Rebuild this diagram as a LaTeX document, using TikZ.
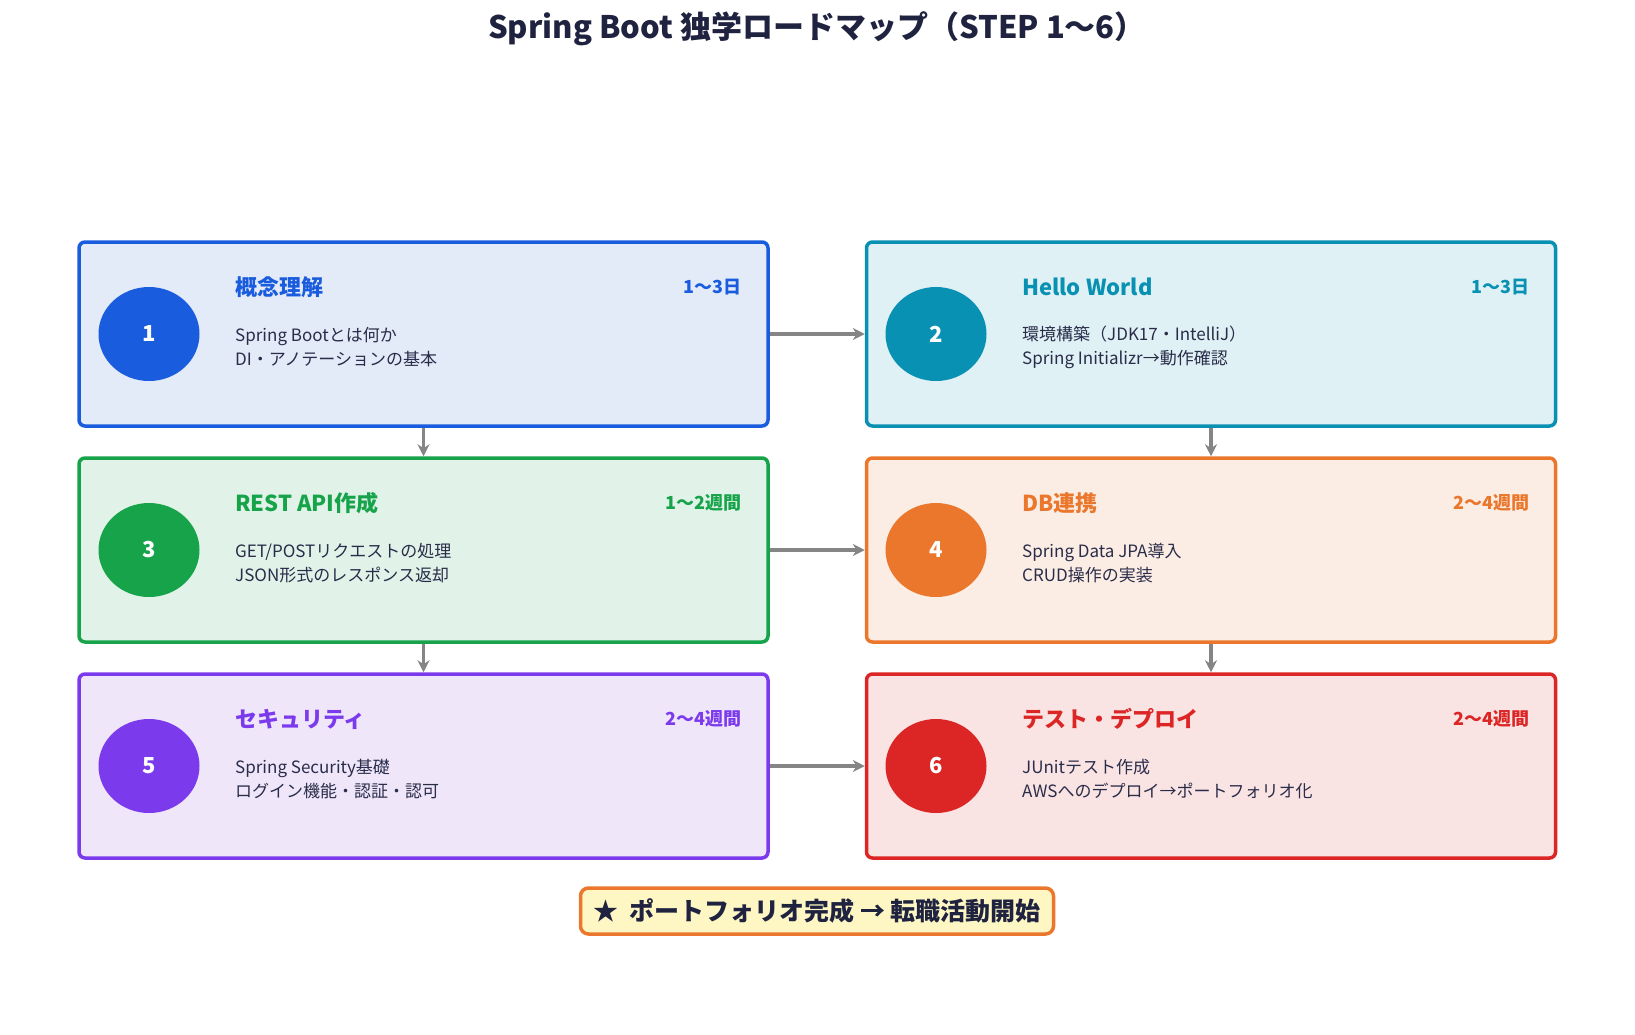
\documentclass[tikz,border=0pt]{standalone}
\usepackage{fontspec}
\setmainfont{Noto Sans CJK JP}
\usepackage{tikz}
\usetikzlibrary{shapes.geometric, arrows.meta, positioning, calc}
\definecolor{rmink}{HTML}{2A2D4A}
\definecolor{rmgray}{HTML}{858585}
\definecolor{rmblue}{HTML}{1A5CDE}
\definecolor{rmbluel}{HTML}{E3EAF8}
\definecolor{rmteal}{HTML}{0891B2}
\definecolor{rmteall}{HTML}{DFF1F5}
\definecolor{rmgreen}{HTML}{16A34A}
\definecolor{rmgreenl}{HTML}{E1F3E8}
\definecolor{rmorange}{HTML}{EA772C}
\definecolor{rmorangel}{HTML}{FCEDE4}
\definecolor{rmpurple}{HTML}{7C3AED}
\definecolor{rmpurplel}{HTML}{EFE6FA}
\definecolor{rmred}{HTML}{DC2626}
\definecolor{rmredl}{HTML}{FAE3E3}
\definecolor{rmgoal}{HTML}{FEF7C3}
\definecolor{rmtitle}{HTML}{1F2340}

\begin{document}
\begin{tikzpicture}[
    x=1pt, y=-1pt,
    stage/.style={rectangle, rounded corners=6pt, line width=3.5pt, minimum width=689pt, minimum height=184pt},
    badge/.style={ellipse, minimum width=101pt, minimum height=94pt, inner sep=0pt, text=white, font=\fontsize{22}{26}\selectfont\bfseries},
    heading/.style={anchor=west, inner sep=0pt, font=\fontsize{22}{26}\selectfont\bfseries},
    duration/.style={anchor=east, inner sep=0pt, font=\fontsize{18}{21}\selectfont\bfseries},
    detail/.style={anchor=west, inner sep=0pt, align=left, text=rmink, font=\fontsize{17}{24}\selectfont},
    link/.style={-{Stealth[length=12pt, width=12pt]}, draw=rmgray, line width=3.5pt},
    goal/.style={rectangle, rounded corners=8pt, draw=rmorange, fill=rmgoal, line width=3.5pt, minimum width=473pt, minimum height=46pt, text=rmtitle, font=\fontsize{25}{29}\selectfont\bfseries}
]
\useasboundingbox (0,0) rectangle (1635,1034);

\node[text=rmtitle, font=\fontsize{31}{37}\selectfont\bfseries] (title) at (817, 29) {Spring Boot 独学ロードマップ（STEP 1〜6）};

% STEP 1
\node[stage, draw=rmblue, fill=rmbluel] (s1) at (423.5, 334) {};
\node[badge, fill=rmblue] (c1) at (149, 334) {1};
\node[heading, text=rmblue] (h1) at (235, 287) {概念理解};
\node[duration, text=rmblue] (d1) at (742, 287) {1〜3日};
\node[detail] (t1) at (235, 347) {Spring Bootとは何か\\DI・アノテーションの基本};

% STEP 2
\node[stage, draw=rmteal, fill=rmteall] (s2) at (1211, 334) {};
\node[badge, fill=rmteal] (c2) at (936, 334) {2};
\node[heading, text=rmteal] (h2) at (1022, 287) {Hello World};
\node[duration, text=rmteal] (d2) at (1530, 287) {1〜3日};
\node[detail] (t2) at (1022, 347) {環境構築（JDK17・IntelliJ）\\Spring Initializr→動作確認};

% STEP 3
\node[stage, draw=rmgreen, fill=rmgreenl] (s3) at (423.5, 550) {};
\node[badge, fill=rmgreen] (c3) at (149, 550) {3};
\node[heading, text=rmgreen] (h3) at (235, 503) {REST API作成};
\node[duration, text=rmgreen] (d3) at (742, 503) {1〜2週間};
\node[detail] (t3) at (235, 563) {GET/POSTリクエストの処理\\JSON形式のレスポンス返却};

% STEP 4
\node[stage, draw=rmorange, fill=rmorangel] (s4) at (1211, 550) {};
\node[badge, fill=rmorange] (c4) at (936, 550) {4};
\node[heading, text=rmorange] (h4) at (1022, 503) {DB連携};
\node[duration, text=rmorange] (d4) at (1530, 503) {2〜4週間};
\node[detail] (t4) at (1022, 563) {Spring Data JPA導入\\CRUD操作の実装};

% STEP 5
\node[stage, draw=rmpurple, fill=rmpurplel] (s5) at (423.5, 766) {};
\node[badge, fill=rmpurple] (c5) at (149, 766) {5};
\node[heading, text=rmpurple] (h5) at (235, 719) {セキュリティ};
\node[duration, text=rmpurple] (d5) at (742, 719) {2〜4週間};
\node[detail] (t5) at (235, 779) {Spring Security基礎\\ログイン機能・認証・認可};

% STEP 6
\node[stage, draw=rmred, fill=rmredl] (s6) at (1211, 766) {};
\node[badge, fill=rmred] (c6) at (936, 766) {6};
\node[heading, text=rmred] (h6) at (1022, 719) {テスト・デプロイ};
\node[duration, text=rmred] (d6) at (1530, 719) {2〜4週間};
\node[detail] (t6) at (1022, 779) {JUnitテスト作成\\AWSへのデプロイ→ポートフォリオ化};

% Goal
\node[goal] (goal) at (817, 911) {★\ \ ポートフォリオ完成 → 転職活動開始};

% Connections
\draw[link] (s1) -- (s2);
\draw[link] (s3) -- (s4);
\draw[link] (s5) -- (s6);
\draw[link] (s1) -- (s3);
\draw[link] (s3) -- (s5);
\draw[link] (s2) -- (s4);
\draw[link] (s4) -- (s6);

\end{tikzpicture}
\end{document}
